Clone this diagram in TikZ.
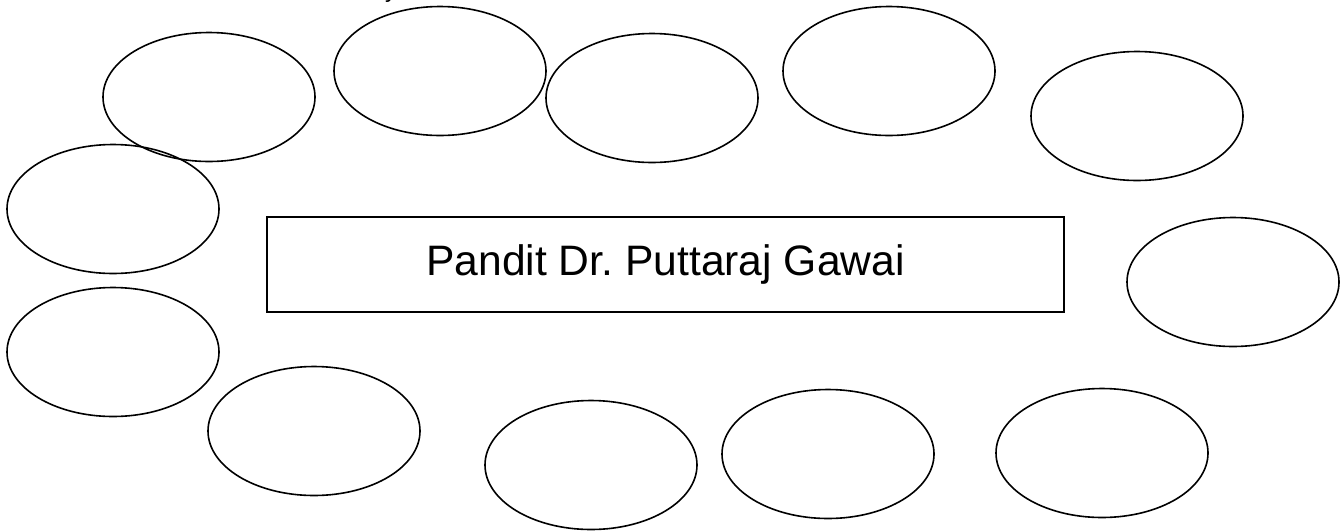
\documentclass[tikz,border=0pt]{standalone}
\usepackage{fontspec}
\setmainfont{Liberation Sans}
\usetikzlibrary{shapes.geometric}
\frenchspacing
\begin{document}
\begin{tikzpicture}[x=1pt,y=-1pt,
  bubble/.style={ellipse,draw,line width=1.6pt,minimum width=212pt,minimum height=129pt,inner sep=0pt},
  titlebox/.style={rectangle,draw,line width=1.6pt,minimum width=797pt,minimum height=95pt,inner sep=0pt,font=\fontsize{42.6}{50}\selectfont}]
  \path[use as bounding box,clip] (0,0) rectangle (1341,531);
  \fill[white] (0,0) rectangle (1341,531);
  % descender of a heading line above the frame
  \node[anchor=base west,inner sep=0pt,font=\fontsize{24}{28}\selectfont] (head) at (385,-3) {y};
  % central title
  \node[titlebox] (title) at (665.5,264.5) {Pandit Dr. Puttaraj Gawai};
  % surrounding bubbles
  \node[bubble] (b1)  at (209,97)  {};
  \node[bubble] (b2)  at (440,71)  {};
  \node[bubble] (b3)  at (652,98)  {};
  \node[bubble] (b4)  at (889,71)  {};
  \node[bubble] (b5)  at (1137,116) {};
  \node[bubble] (b6)  at (113,209) {};
  \node[bubble] (b7)  at (1233,282) {};
  \node[bubble] (b8)  at (113,352) {};
  \node[bubble] (b9)  at (314,431) {};
  \node[bubble] (b10) at (591,465) {};
  \node[bubble] (b11) at (828,454) {};
  \node[bubble] (b12) at (1102,453) {};
\end{tikzpicture}
\end{document}
